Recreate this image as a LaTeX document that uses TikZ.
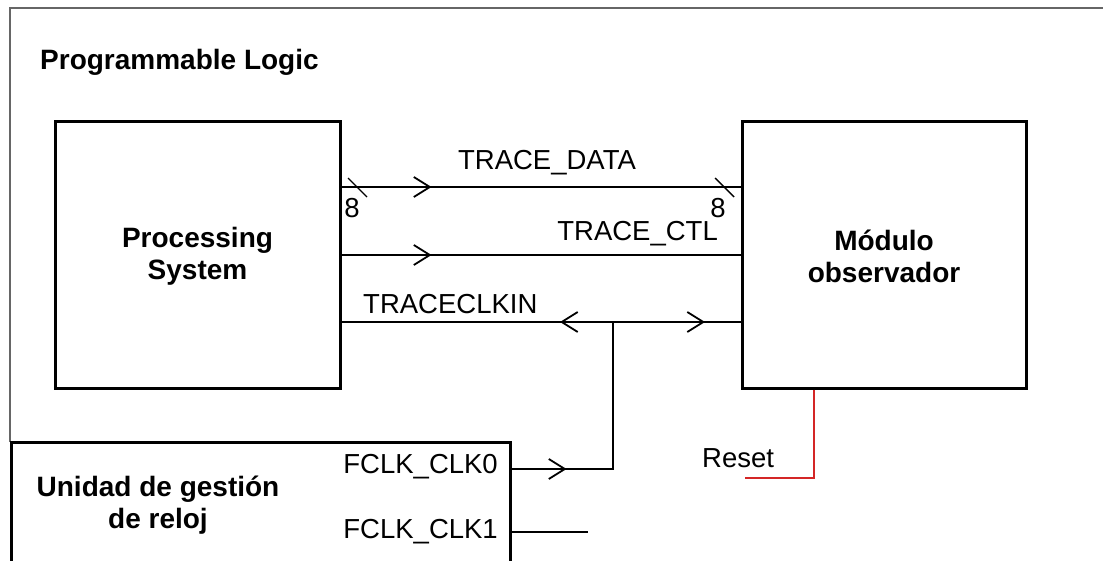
\documentclass[tikz,border=0pt]{standalone}
\usepackage{fontspec}
\setmainfont{Liberation Sans}
\usetikzlibrary{arrows.meta,decorations.markings,calc}
\tikzset{
  box/.style={draw=black, line width=3pt, inner sep=0pt},
  conn/.style={draw=black, line width=1.8pt},
  frame/.style={draw=black!60, line width=2.2pt},
  lbl/.style={font=\fontsize{27.5}{32}\selectfont, inner sep=0pt},
  blbl/.style={font=\fontsize{28}{32}\selectfont\bfseries, inner sep=0pt, align=center},
  chev/.tip={Straight Barb[length=16pt,width=20pt,line width=1.8pt]},
  arrat/.style={postaction={decorate}, decoration={markings, mark=at position #1 with {\arrow{chev}}}},
}
\begin{document}
\begin{tikzpicture}[x=1pt,y=-1pt]
\useasboundingbox (0,0) rectangle (1103,561);
\clip (0,0) rectangle (1103,561);
\fill[white] (0,0) rectangle (1103,561);
% outer frame
\coordinate (fl) at (10,442);
\coordinate (ftl) at (10,8);
\coordinate (ftr) at (1110,8);
\draw[frame] (fl) -- (ftl) -- (ftr);
\node[blbl, anchor=west] (pl) at (40,62) {Programmable Logic};
% boxes
\node[box, minimum width=285pt, minimum height=266pt] (ps) at (197.5,255) {};
\node[blbl] (pst) at (197.5,256) {Processing\\System};
\node[box, minimum width=284pt, minimum height=266pt] (mod) at (884,255) {};
\node[blbl] (modt) at (884,256) {Módulo\\observador};
\node[box, minimum width=499pt, minimum height=130pt] (clk) at (260.5,507) {};
\node[blbl] (clkt) at (158,505) {Unidad de gestión\\de reloj};
% TRACE_DATA
\coordinate (tdA) at ([yshift=68pt]ps.east);
\coordinate (tdB) at ([yshift=68pt]mod.west);
\draw[conn, arrat=90pt] (tdA) -- (tdB);
\coordinate (s1a) at (348,178); \coordinate (s1b) at (367,197);
\coordinate (s2a) at (715,178); \coordinate (s2b) at (734,197);
\draw[line width=1.4pt] (s1a) -- (s1b);
\draw[line width=1.4pt] (s2a) -- (s2b);
\node[lbl] (n8a) at (352,208) {8};
\node[lbl] (n8b) at (718,208) {8};
\node[lbl] (tdl) at (547,163) {TRACE\_DATA};
% TRACE_CTL
\coordinate (tcA) at (ps.east);
\coordinate (tcB) at (mod.west);
\draw[conn, arrat=90pt] (tcA) -- (tcB);
\node[lbl, anchor=east] (tcl) at (718,234) {TRACE\_CTL};
% TRACECLKIN
\coordinate (tkA) at ([yshift=-67pt]ps.east);
\coordinate (tkB) at ([yshift=-67pt]mod.west);
\coordinate (j) at (613,322);
\draw[conn, arrat=53pt] (j) -- (tkA);
\draw[conn, arrat=92pt] (j) -- (tkB);
\node[lbl, anchor=west] (tkl) at (363,304) {TRACECLKIN};
% FCLK
\coordinate (c0) at (clk.east |- 0,469);
\coordinate (c1) at (clk.east |- 0,532);
\coordinate (c1e) at (588,532);
\draw[conn, arrat=55pt] (c0) -- (c0 -| j) -- (j);
\draw[conn] (c1) -- (c1e);
\node[lbl, anchor=east] (f0) at (498,467) {FCLK\_CLK0};
\node[lbl, anchor=east] (f1) at (498,532) {FCLK\_CLK1};
% Reset
\coordinate (r0) at ([xshift=-70pt]mod.south);
\coordinate (r1) at (745,478);
\draw[red!80!black!85, line width=1.3pt] (r0) |- (r1);
\node[lbl, anchor=west] (rl) at (702,458) {Reset};
\end{tikzpicture}
\end{document}
